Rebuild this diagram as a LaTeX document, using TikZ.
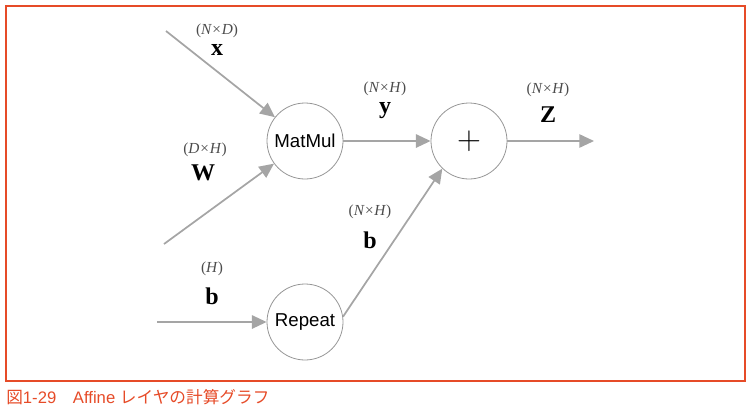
\documentclass[tikz,border=0pt]{standalone}
\usepackage{fontspec}
\setmainfont{Liberation Serif}
\setsansfont{Liberation Sans}
\newfontfamily\jpfont{Noto Sans CJK JP}
\usetikzlibrary{arrows.meta}
\definecolor{framered}{RGB}{230,75,40}
\definecolor{linegray}{RGB}{165,165,165}
\definecolor{circgray}{RGB}{150,150,150}
\tikzset{
  opnode/.style={circle,draw=circgray,line width=0.6pt,minimum size=57pt,inner sep=0pt,font=\sffamily\fontsize{14}{16}\selectfont},
  conn/.style={draw=linegray,line width=1.3pt,-{Triangle[length=11pt,width=10pt]}},
  dimlbl/.style={inner sep=0pt,font=\itshape\fontsize{11.5}{13}\selectfont,text=black!70},
  varlbl/.style={inner sep=0pt,font=\bfseries\fontsize{18}{20}\selectfont}
}
\newcommand{\dimtxt}[1]{\textup{(}#1\textup{)}}
\begin{document}
\begin{tikzpicture}[x=0.75pt,y=-0.75pt]
\useasboundingbox (0,0) rectangle (750,412);
\draw[framered,line width=0.8pt] (6,6) rectangle (745,381);
\node[anchor=west,inner sep=0pt,text=framered,font=\sffamily\fontsize{12.5}{14}\selectfont] (cap) at (6,397) {{\jpfont 図}1-29\hspace{1em}Affine {\jpfont レイヤの計算グラフ}};

\node[opnode] (mm) at (305,141) {MatMul};
\node[opnode] (plus) at (469,141) {\fontsize{26}{28}\selectfont$+$};
\node[opnode] (rep) at (305,322) {Repeat};

\coordinate (xs) at (166,31);
\coordinate (ws) at (164,244);
\coordinate (bs) at (157,322);
\coordinate (ze) at (594,141);

\draw[conn] (xs) -- (mm);
\draw[conn] (ws) -- (mm);
\draw[conn] (mm) -- (plus);
\draw[conn] (plus) -- (ze);
\draw[conn] (bs) -- (rep);
\draw[conn] (rep.8) -- (plus.226);

\node[dimlbl] (dx) at (217,31) {\dimtxt{N×D}};
\node[varlbl] (lx) at (217,50) {x};
\node[dimlbl] (dw) at (205,150) {\dimtxt{D×H}};
\node[varlbl] (lw) at (203,173) {W};
\node[dimlbl] (dy) at (385,89) {\dimtxt{N×H}};
\node[varlbl,text height=8pt] (ly) at (385,111) {y};
\node[dimlbl] (dz) at (548,90) {\dimtxt{N×H}};
\node[varlbl] (lz) at (548,115) {Z};
\node[dimlbl] (db) at (212,269) {\dimtxt{H}};
\node[varlbl] (lb) at (212,296) {b};
\node[dimlbl] (db2) at (370,212) {\dimtxt{N×H}};
\node[varlbl] (lb2) at (370,240) {b};
\end{tikzpicture}
\end{document}
